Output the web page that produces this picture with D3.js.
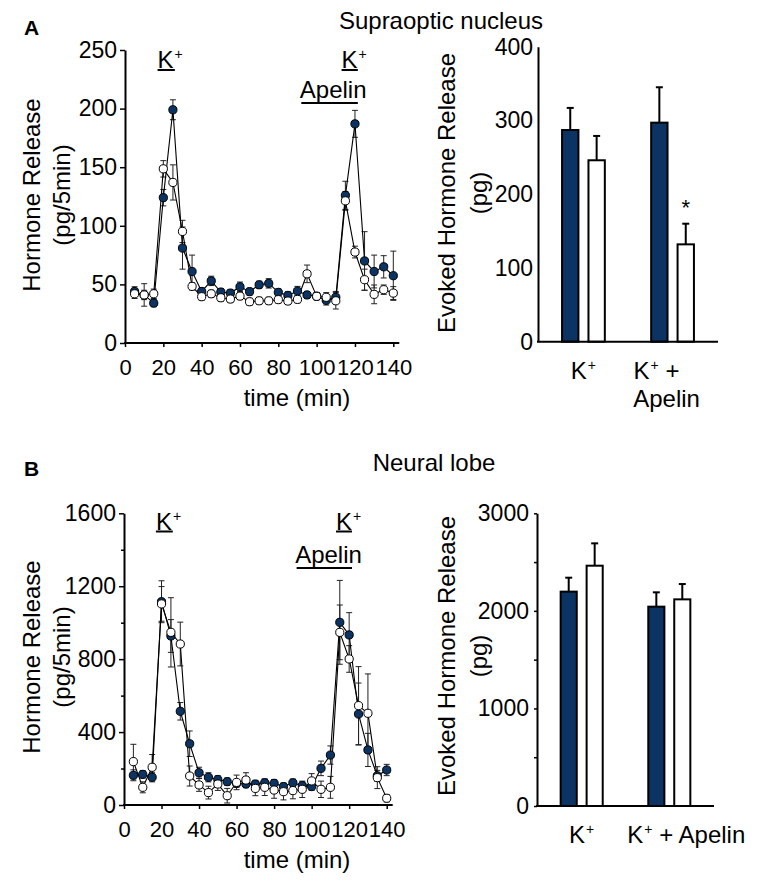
<!DOCTYPE html>
<html><head><meta charset="utf-8">
<script src="https://cdn.jsdelivr.net/npm/d3@7"></script>
<style>
body{margin:0;background:#fff}
text{font-family:"Liberation Sans",Arial,Helvetica,sans-serif;fill:#000}
</style>
</head><body>
<svg id="c" width="765" height="891"></svg>
<script>
// ---------- DATA ----------
const times = [5,10,15,20,25,30,35,40,45,50,55,60,65,70,75,80,85,90,95,100,105,110,115,120,125,130,135,140];
const timeTicks = [0,20,40,60,80,100,120,140];

// Supraoptic nucleus (A) time course, pg/5min
const sonControl = [44,41,34,124,199,81,61,44,53,43.5,42.6,48,43.8,49.7,50.9,43.2,40.6,44.3,41,40,36.4,39,126,187,70,61,65,57.4];
const sonControlErr = [4,4,3,7,8.5,18,14,3,4,3,3,4,3,3,4,3,3,4,3,3,4,5,12,11.5,25,14,9.5,21];
const sonApelin = [42,41,42,148.6,137,95.2,48.3,39.5,42,38.6,37.5,40,35.2,36,36,37,35.8,37.2,59,39.8,39,36,121.3,77.6,54,41.5,45.5,42.6];
const sonApelinErr = [4,9.6,4,7,15,9.5,3,3,3,3,3,3,3,3,3,3,3,3,7.5,3,4,7,8,5,9,8,4,5.5];
const sonYTicks = [0,50,100,150,200,250];

// Neural lobe (B) time course, pg/5min
const nlControl = [163,168,152,1115,927,514,336,177,152,140,128,118,115,115,122,119,101,122,106,101,201,274,1002,933,499,302,160,192];
const nlControlErr = [30,20,25,115,90,48,70,30,25,20,20,20,20,20,20,20,20,20,20,20,40,50,230,122,170,91,30,31];
const nlApelin = [238,97,207,1103,947,883,159,110,68,115,51,124,137,91,97,82,73,79,86,132,86,97,947,801,545,503,150,37];
const nlApelinErr = [95,30,70,95,190,120,55,35,35,35,40,40,40,40,45,45,45,45,45,40,45,60,150,73,214,216,60,20];
const nlYTicks = [0,400,800,1200,1600];
const nlYMinor = [200,600,1000,1400];

// stimulation periods (min)
const kPeriod1 = [17,26];
const kPeriod2 = [113,121.5];
const apelinPeriod = [92,121.5];

// Evoked release bars
const barGroups = ["K+","K+ + Apelin"];
const barSeries = ["control","apelin"];
const sonBarControl = [287,297];
const sonBarControlErr = [30,48];
const sonBarApelin = [246,132];
const sonBarApelinErr = [33,28];
const sonBarTicks = [0,100,200,300,400];
const nlBarControl = [2197,2043];
const nlBarControlErr = [143,147];
const nlBarApelin = [2463,2118];
const nlBarApelinErr = [229,157];
const nlBarTicks = [0,1000,2000,3000];
const nlBarMinor = [500,1500,2500];

// ---------- DRAWING ----------
const NAVY = "#0b3464";
const svg = d3.select("#c");
svg.append("rect").attr("width",765).attr("height",891).attr("fill","#fff");

function kText(g, x, y, extra, anchor) {
  const t = g.append("text").attr("x",x).attr("y",y).attr("font-size",24)
    .attr("text-anchor",anchor||"start");
  t.append("tspan").text("K");
  t.append("tspan").attr("font-size",14).attr("dx",1).attr("dy",-9).text("+");
  if (extra) t.append("tspan").attr("dy",9).text(extra);
  return t;
}

function linePanel(o) {
  const g = svg.append("g");
  const x = d3.scaleLinear().domain([0,140]).range([o.x0,o.x1]);
  const y = d3.scaleLinear().domain([0,o.ymax]).range([o.y0,o.y1]);

  // y axis
  const ya = g.append("g").attr("transform",`translate(${o.x0},0)`)
    .call(d3.axisLeft(y).tickValues(o.yTicks).tickSize(5).tickSizeOuter(0).tickPadding(3).tickFormat(d3.format("d")));
  ya.select(".domain").attr("stroke-width",2);
  ya.selectAll(".tick line").attr("stroke-width",1.5);
  ya.selectAll(".tick text").attr("font-size",23).attr("font-family","Liberation Sans, Arial, sans-serif").attr("fill","#000");
  if (o.yMinor) {
    g.append("g").attr("transform",`translate(${o.x0},0)`)
      .call(d3.axisLeft(y).tickValues(o.yMinor).tickSize(3).tickSizeOuter(0).tickFormat(""))
      .call(s=>s.select(".domain").remove())
      .selectAll(".tick line").attr("stroke-width",1.5);
  }
  // x axis
  const xa = g.append("g").attr("transform",`translate(0,${o.y0})`)
    .call(d3.axisBottom(x).tickValues(timeTicks).tickSize(4).tickSizeOuter(0).tickPadding(12).tickFormat(d3.format("d")));
  xa.select(".domain").remove();
  xa.selectAll(".tick line").attr("stroke-width",1.5);
  xa.selectAll(".tick text").attr("font-size",22).attr("font-family","Liberation Sans, Arial, sans-serif").attr("fill","#000");
  g.append("line").attr("x1",o.x0-1).attr("x2",o.x1+6).attr("y1",o.y0).attr("y2",o.y0)
    .attr("stroke","#000").attr("stroke-width",2);

  // error bars
  const series = [
    {v:o.control, e:o.controlErr, fill:NAVY},
    {v:o.apelin, e:o.apelinErr, fill:"#fff"}
  ];
  series.forEach(s=>{
    const eg = g.append("g").attr("stroke","#222").attr("stroke-width",1);
    times.forEach((t,i)=>{
      const cx = x(t), hi = y(s.v[i]+s.e[i]), lo = y(Math.max(0,s.v[i]-s.e[i]));
      eg.append("line").attr("x1",cx).attr("x2",cx).attr("y1",hi).attr("y2",lo);
      eg.append("line").attr("x1",cx-3).attr("x2",cx+3).attr("y1",hi).attr("y2",hi);
      eg.append("line").attr("x1",cx-3).attr("x2",cx+3).attr("y1",lo).attr("y2",lo);
    });
  });
  const line = d3.line().x((d,i)=>x(times[i])).y(d=>y(d));
  series.forEach(s=>{
    g.append("path").datum(s.v).attr("d",line).attr("fill","none").attr("stroke","#000").attr("stroke-width",1.1);
  });
  series.forEach(s=>{
    g.append("g").selectAll("circle").data(s.v).join("circle")
      .attr("cx",(d,i)=>x(times[i])).attr("cy",d=>y(d)).attr("r",4.1)
      .attr("fill",s.fill).attr("stroke","#000").attr("stroke-width",1);
  });

  // stimulus annotations
  kText(g, x(kPeriod1[0]), o.kBase, null);
  g.append("line").attr("x1",x(kPeriod1[0])).attr("x2",x(kPeriod1[1])).attr("y1",o.kBase+2).attr("y2",o.kBase+2).attr("stroke","#000").attr("stroke-width",2);
  kText(g, x(kPeriod2[0]), o.kBase, null);
  g.append("line").attr("x1",x(kPeriod2[0])).attr("x2",x(kPeriod2[1])).attr("y1",o.kBase+2).attr("y2",o.kBase+2).attr("stroke","#000").attr("stroke-width",2);
  g.append("text").attr("x",x(apelinPeriod[0])-1.5).attr("y",o.aBase).attr("font-size",24).text("Apelin");
  g.append("line").attr("x1",x(apelinPeriod[0])).attr("x2",x(apelinPeriod[1])).attr("y1",o.aBase+5).attr("y2",o.aBase+5).attr("stroke","#000").attr("stroke-width",2);

  // titles
  const cy = o.labelCY;
  g.append("text").attr("transform",`translate(40,${cy}) rotate(-90)`).attr("text-anchor","middle").attr("font-size",24).text("Hormone Release");
  g.append("text").attr("transform",`translate(70,${cy}) rotate(-90)`).attr("text-anchor","middle").attr("font-size",24).text("(pg/5min)");
  g.append("text").attr("x",297).attr("y",o.y0+63).attr("text-anchor","middle").attr("font-size",24).text("time (min)");
}

function barPanel(o) {
  const g = svg.append("g");
  const xg = d3.scaleBand().domain(barGroups).range([o.x0,o.x1]).paddingInner(0.52).paddingOuter(0.27);
  const xs = d3.scaleBand().domain(barSeries).range([0,xg.bandwidth()]).paddingInner(0.38).paddingOuter(0);
  const y = d3.scaleLinear().domain([0,o.ymax]).range([o.y0,o.y1]);

  const ya = g.append("g").attr("transform",`translate(${o.x0},0)`)
    .call(d3.axisLeft(y).tickValues(o.yTicks).tickSize(o.tickSize).tickSizeOuter(0).tickPadding(5).tickFormat(d3.format("d")));
  ya.select(".domain").attr("stroke-width",2);
  ya.selectAll(".tick line").attr("stroke-width",1.5);
  ya.selectAll(".tick text").attr("font-size",23).attr("font-family","Liberation Sans, Arial, sans-serif").attr("fill","#000");
  if (o.yMinor) {
    g.append("g").attr("transform",`translate(${o.x0},0)`)
      .call(d3.axisLeft(y).tickValues(o.yMinor).tickSize(3).tickSizeOuter(0).tickFormat(""))
      .call(s=>s.select(".domain").remove())
      .selectAll(".tick line").attr("stroke-width",1.5);
  }

  const series = [
    {key:"control", v:o.control, e:o.controlErr, fill:NAVY},
    {key:"apelin", v:o.apelin, e:o.apelinErr, fill:"#fff"}
  ];
  series.forEach(s=>{
    barGroups.forEach((gr,i)=>{
      const bx = xg(gr)+xs(s.key), bw = xs.bandwidth(), cx = bx+bw/2;
      const top = y(s.v[i]), et = y(s.v[i]+s.e[i]);
      g.append("line").attr("x1",cx).attr("x2",cx).attr("y1",top).attr("y2",et).attr("stroke","#000").attr("stroke-width",2);
      g.append("line").attr("x1",cx-3.5).attr("x2",cx+3.5).attr("y1",et).attr("y2",et).attr("stroke","#000").attr("stroke-width",2);
      g.append("rect").attr("x",bx).attr("y",top).attr("width",bw).attr("height",y(0)-top)
        .attr("fill",s.fill).attr("stroke","#000").attr("stroke-width",2);
    });
  });
  g.append("line").attr("x1",o.x0-1).attr("x2",o.x1).attr("y1",o.y0).attr("y2",o.y0).attr("stroke","#000").attr("stroke-width",2);

  if (o.star) {
    const i = 1;
    const cx = xg(barGroups[i])+xs("apelin")+xs.bandwidth()/2;
    g.append("text").attr("x",cx).attr("y",y(o.apelin[i]+o.apelinErr[i])-9).attr("text-anchor","middle").attr("font-size",22).text("*");
  }

  // category labels
  const c0 = xg(barGroups[0])+xg.bandwidth()/2;
  kText(g, c0, o.y0+o.lab1, null, "middle");
  if (o.twoLine) {
    kText(g, xg(barGroups[1])+xg.bandwidth()/2 - 39, o.y0+o.lab1, " +", "start");
    g.append("text").attr("x",xg(barGroups[1])+xg.bandwidth()/2-6).attr("y",o.y0+o.lab2).attr("text-anchor","middle").attr("font-size",24).text("Apelin");
  } else {
    kText(g, xg(barGroups[1])+xg.bandwidth()/2 - 42, o.y0+o.lab1, " + Apelin", "start");
  }

  g.append("text").attr("transform",`translate(455,${o.labelCY}) rotate(-90)`).attr("text-anchor","middle").attr("font-size",24).text("Evoked Hormone Release");
  g.append("text").attr("transform",`translate(487,${o.labelCY}) rotate(-90)`).attr("text-anchor","middle").attr("font-size",24).text("(pg)");
}

// panel letters and titles
svg.append("text").attr("x",24).attr("y",35).attr("font-size",21).attr("font-weight","bold").text("A");
svg.append("text").attr("x",441).attr("y",29).attr("text-anchor","middle").attr("font-size",24).text("Supraoptic nucleus");
svg.append("text").attr("x",24).attr("y",476).attr("font-size",21).attr("font-weight","bold").text("B");
svg.append("text").attr("x",434).attr("y",471).attr("text-anchor","middle").attr("font-size",24).text("Neural lobe");

linePanel({x0:125, x1:393.3, y0:343, y1:50, ymax:250, yTicks:sonYTicks,
  control:sonControl, controlErr:sonControlErr, apelin:sonApelin, apelinErr:sonApelinErr,
  kBase:68, aBase:98, labelCY:195});
linePanel({x0:124, x1:386.7, y0:805, y1:513.3, ymax:1600, yTicks:nlYTicks, yMinor:nlYMinor,
  control:nlControl, controlErr:nlControlErr, apelin:nlApelin, apelinErr:nlApelinErr,
  kBase:529.5, aBase:563, labelCY:657});

barPanel({x0:538, x1:718, y0:341.7, y1:46.7, ymax:400, yTicks:sonBarTicks, tickSize:0,
  control:sonBarControl, controlErr:sonBarControlErr, apelin:sonBarApelin, apelinErr:sonBarApelinErr,
  star:true, twoLine:true, lab1:37, lab2:65, labelCY:193});
barPanel({x0:537, x1:714, y0:806, y1:513.3, ymax:3000, yTicks:nlBarTicks, yMinor:nlBarMinor, tickSize:3,
  control:nlBarControl, controlErr:nlBarControlErr, apelin:nlBarApelin, apelinErr:nlBarApelinErr,
  star:false, twoLine:false, lab1:37, lab2:65, labelCY:656});
</script>
</body></html>
